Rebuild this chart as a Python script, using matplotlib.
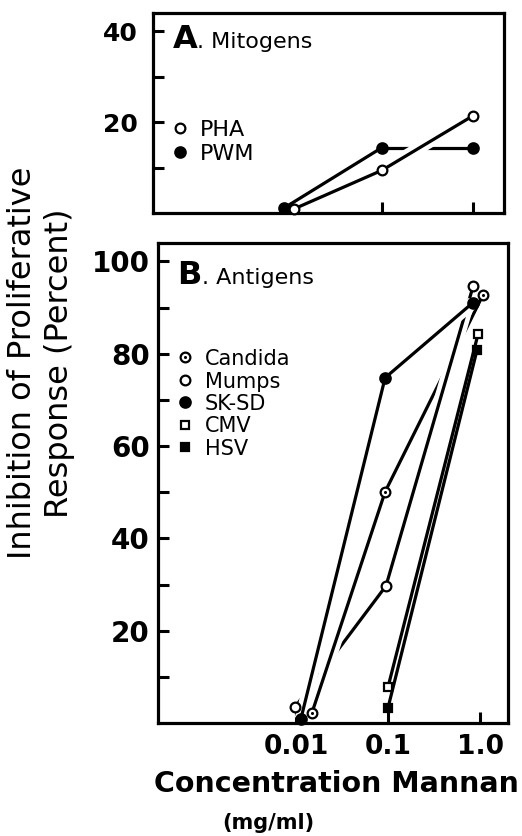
import matplotlib
matplotlib.use('Agg')
import matplotlib.pyplot as plt
import matplotlib.patheffects as pe
from matplotlib.ticker import FixedLocator, NullLocator

plt.rcParams['font.family'] = ['DejaVu Sans']

# A. Mitogens  (x = mannan conc. mg/ml, y = % inhibition)
pha_x = [0.0108, 0.1, 1.0]
pha_y = [0.9, 9.4, 21.4]
pwm_x = [0.0084, 0.1, 1.0]
pwm_y = [1.1, 14.4, 14.4]

# B. Antigens
candida_x = [0.0149, 0.093, 1.08]
candida_y = [2.2, 50.1, 92.8]
mumps_x = [0.0098, 0.095, 0.84]
mumps_y = [3.5, 29.7, 94.6]
sksd_x = [0.0113, 0.093, 0.84]
sksd_y = [0.9, 74.8, 91.1]
cmv_x = [0.1, 0.95]
cmv_y = [7.8, 84.2]
hsv_x = [0.1, 0.93]
hsv_y = [3.3, 80.9]

conc_ticks = [0.01, 0.1, 1.0]
conc_labels = ['0.01', '0.1', '1.0']

LW = 2.3
halo = [pe.Stroke(linewidth=9, foreground='white', capstyle='butt'), pe.Normal()]

open_c = dict(marker='o', mfc='white', mec='k', ms=7, mew=1.6)
fill_c = dict(marker='o', mfc='k', mec='k', ms=7.5, mew=1.6)
open_s = dict(marker='s', mfc='white', mec='k', ms=6, mew=1.6)
fill_s = dict(marker='s', mfc='k', mec='k', ms=6, mew=1.6)
dot = dict(marker='o', mfc='k', mec='k', ms=2.2, mew=0)


def draw_line(ax, x, y, on_top=(), z_top=4):
    # old-style figure: a crossing line breaks the one beneath it
    for i in range(len(x) - 1):
        if i in on_top:
            ax.plot(x[i:i + 2], y[i:i + 2], color='k', lw=LW, solid_capstyle='butt',
                    zorder=z_top, path_effects=halo)
        else:
            ax.plot(x[i:i + 2], y[i:i + 2], color='k', lw=LW, zorder=2)


def draw_marks(ax, x, y, styles):
    for st in styles:
        ax.plot(x, y, ls='none', zorder=6, clip_on=False, **st)


def style_axes(ax, major, minor, ylim, xlim, ylab_size, ypad):
    ax.set_xscale('log')
    ax.set_xlim(*xlim)
    ax.set_ylim(*ylim)
    ax.xaxis.set_major_locator(FixedLocator(conc_ticks))
    ax.xaxis.set_minor_locator(NullLocator())
    ax.yaxis.set_major_locator(FixedLocator(major))
    ax.yaxis.set_minor_locator(FixedLocator(minor))
    ax.tick_params(which='both', direction='in', length=8, width=2.2)
    ax.tick_params(axis='y', which='major', labelsize=ylab_size, pad=ypad)
    for s in ax.spines.values():
        s.set_linewidth(2.3)


fig = plt.figure(figsize=(5.22, 8.36), dpi=100)
axA = fig.add_axes([153 / 522, 1 - 213 / 836, 351 / 522, 200 / 836])
axB = fig.add_axes([158 / 522, 1 - 723 / 836, 350 / 522, 480 / 836])

# ---- panel A
style_axes(axA, [20, 40], [10, 30], (0, 44), (10 ** -3.516, 10 ** 0.34), 18, 11)
axA.set_yticklabels(['20', '40'], fontweight='bold')
axA.set_xticklabels([])
draw_line(axA, pwm_x, pwm_y)
draw_line(axA, pha_x, pha_y, on_top=(1,))
draw_marks(axA, pwm_x, pwm_y, [fill_c])
draw_marks(axA, pha_x, pha_y, [open_c])

axA.text(0.057, 0.825, 'A', transform=axA.transAxes, fontsize=23, fontweight='bold', va='baseline')
axA.text(0.126, 0.825, '. Mitogens', transform=axA.transAxes, fontsize=16, va='baseline')
for yy, st, lab in [(0.425, [open_c], 'PHA'), (0.305, [fill_c], 'PWM')]:
    for s in st:
        axA.plot([0.077], [yy], ls='none', transform=axA.transAxes, clip_on=False, zorder=6, **s)
    axA.text(0.134, yy - 7.5 / 200, lab, transform=axA.transAxes, fontsize=16, va='baseline')

# ---- panel B
style_axes(axB, [20, 40, 60, 80, 100], [10, 30, 50, 70, 90], (0, 104),
           (10 ** -3.5, 10 ** 0.304), 20, 6)
axB.set_yticklabels(['20', '40', '60', '80', '100'], fontweight='bold')
axB.set_xticklabels(conc_labels, fontsize=19, fontweight='bold')
axB.tick_params(axis='x', pad=8)

draw_line(axB, candida_x, candida_y, on_top=(0,))
draw_line(axB, mumps_x, mumps_y, on_top=(1,), z_top=3)
draw_line(axB, sksd_x, sksd_y, on_top=(0, 1))
draw_line(axB, cmv_x, cmv_y)
draw_line(axB, hsv_x, hsv_y)
draw_marks(axB, candida_x, candida_y, [open_c, dot])
draw_marks(axB, mumps_x, mumps_y, [open_c])
draw_marks(axB, sksd_x, sksd_y, [fill_c])
draw_marks(axB, cmv_x, cmv_y, [open_s])
draw_marks(axB, hsv_x, hsv_y, [fill_s])

axB.text(0.054, 0.915, 'B', transform=axB.transAxes, fontsize=23, fontweight='bold', va='baseline')
axB.text(0.126, 0.915, '. Antigens', transform=axB.transAxes, fontsize=16, va='baseline')
legB = [(357, [open_c, dot], 'Candida'), (380, [open_c], 'Mumps'), (402, [fill_c], 'SK-SD'),
        (425, [open_s], 'CMV'), (447, [fill_s], 'HSV')]
for py, st, lab in legB:
    yy = (723 - py) / 480
    for s in st:
        axB.plot([0.077], [yy], ls='none', transform=axB.transAxes, clip_on=False, zorder=6, **s)
    axB.text(0.134, yy - 7.5 / 480, lab, transform=axB.transAxes, fontsize=15, va='baseline')

fig.text(41 / 522, 1 - 363 / 836, 'Inhibition of Proliferative\nResponse (Percent)',
         rotation=90, ha='center', va='center', fontsize=23, linespacing=1.25)
fig.text(336 / 522, 1 - 792 / 836, 'Concentration Mannan', ha='center', va='baseline',
         fontsize=20.5, fontweight='bold')
fig.text(268 / 522, 1 - 829 / 836, '(mg/ml)', ha='center', va='baseline', fontsize=15,
         fontweight='bold')

fig.savefig('out.png', dpi=100)
